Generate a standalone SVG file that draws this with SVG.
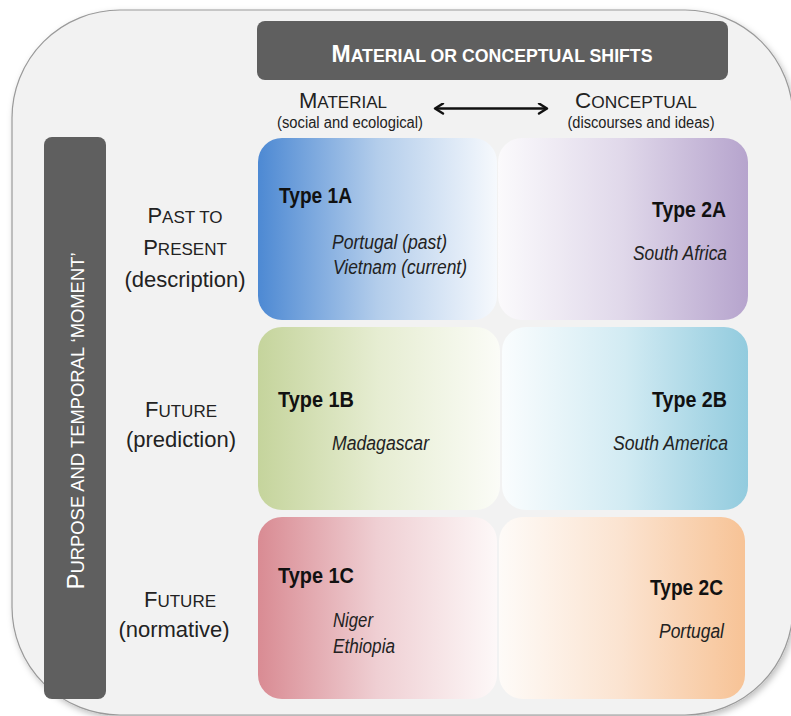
<svg xmlns="http://www.w3.org/2000/svg" width="791" height="716" viewBox="0 0 791 716">
  <style>
    .sans { font-family: "Liberation Sans", Arial, sans-serif; fill: #222; }
    .nar { font-family: "Liberation Sans Narrow", "Liberation Sans", Arial, sans-serif; fill: #111; }
    .type { font-size: 22px; font-weight: bold; }
    .ex { font-size: 20px; font-style: italic; fill: #222; }
    .lab { font-size: 22px; }
    .sub { font-size: 16px; }
    .bar { fill: #5f5f5f; }
  </style>
  <defs>
    <filter id="shadow" x="-5%" y="-5%" width="110%" height="110%">
      <feDropShadow dx="2" dy="3" stdDeviation="3" flood-color="#000" flood-opacity="0.25"/>
    </filter>
    <linearGradient id="g1A" x1="0" y1="0" x2="1" y2="0">
      <stop offset="0" stop-color="#4d89d3"/>
      <stop offset="0.5" stop-color="#b3cdeb"/>
      <stop offset="1" stop-color="#f6f9fd"/>
    </linearGradient>
    <linearGradient id="g2A" x1="0" y1="0" x2="1" y2="0">
      <stop offset="0" stop-color="#fbfafc"/>
      <stop offset="0.5" stop-color="#e0d8ea"/>
      <stop offset="1" stop-color="#b6a4cd"/>
    </linearGradient>
    <linearGradient id="g1B" x1="0" y1="0" x2="1" y2="0">
      <stop offset="0" stop-color="#c5d49c"/>
      <stop offset="0.5" stop-color="#e6edd2"/>
      <stop offset="1" stop-color="#fbfcf7"/>
    </linearGradient>
    <linearGradient id="g2B" x1="0" y1="0" x2="1" y2="0">
      <stop offset="0" stop-color="#fafdfe"/>
      <stop offset="0.5" stop-color="#d2ebf3"/>
      <stop offset="1" stop-color="#92cbde"/>
    </linearGradient>
    <linearGradient id="g1C" x1="0" y1="0" x2="1" y2="0">
      <stop offset="0" stop-color="#d98b93"/>
      <stop offset="0.5" stop-color="#efcfd3"/>
      <stop offset="1" stop-color="#fdf8f8"/>
    </linearGradient>
    <linearGradient id="g2C" x1="0" y1="0" x2="1" y2="0">
      <stop offset="0" stop-color="#fefbf8"/>
      <stop offset="0.5" stop-color="#fbe3d0"/>
      <stop offset="1" stop-color="#f7c396"/>
    </linearGradient>
    <marker id="ah" viewBox="0 0 12 12" refX="10" refY="6" markerWidth="12" markerHeight="12" markerUnits="userSpaceOnUse" orient="auto-start-reverse">
      <path d="M2,1 L10,6 L2,11" fill="none" stroke="#111" stroke-width="2.4" stroke-linecap="round" stroke-linejoin="round"/>
    </marker>
  </defs>

  <g id="background">
    <rect x="12" y="10" width="781" height="705" rx="108" ry="108" fill="#f2f2f2" stroke="#9a9a9a" stroke-width="1.2" filter="url(#shadow)"/>
  </g>

  <g id="header">
    <rect class="bar" x="257" y="21" width="471" height="59" rx="8"/>
    <text class="sans" style="fill:#fff" x="492" y="62" text-anchor="middle" font-weight="bold" font-size="24" textLength="321" lengthAdjust="spacingAndGlyphs">M<tspan font-size="18.5">ATERIAL OR CONCEPTUAL SHIFTS</tspan></text>
  </g>

  <g id="sidebar">
    <rect class="bar" x="44" y="137" width="62" height="562" rx="8"/>
    <text class="sans" style="fill:#fff" transform="translate(84,421) rotate(-90)" text-anchor="middle" font-size="24" textLength="337" lengthAdjust="spacingAndGlyphs">P<tspan font-size="18.5">URPOSE AND TEMPORAL ‘MOMENT’</tspan></text>
  </g>

  <g id="col-material">
    <text class="sans" x="343" y="108" text-anchor="middle" font-size="22" textLength="88" lengthAdjust="spacingAndGlyphs">M<tspan font-size="17">ATERIAL</tspan></text>
    <text class="sans sub" x="350" y="128" text-anchor="middle" textLength="146" lengthAdjust="spacingAndGlyphs">(social and ecological)</text>
  </g>
  <g id="col-conceptual">
    <text class="sans" x="636" y="108" text-anchor="middle" font-size="22" textLength="122" lengthAdjust="spacingAndGlyphs">C<tspan font-size="17">ONCEPTUAL</tspan></text>
    <text class="sans sub" x="641" y="128" text-anchor="middle" textLength="147" lengthAdjust="spacingAndGlyphs">(discourses and ideas)</text>
  </g>

  <g id="connectors">
    <line x1="435" y1="108.5" x2="547" y2="108.5" stroke="#111" stroke-width="2.4" marker-start="url(#ah)" marker-end="url(#ah)"/>
  </g>

  <g id="row-past">
    <text class="sans lab" x="185" y="223" text-anchor="middle">P<tspan font-size="17">AST TO</tspan></text>
    <text class="sans lab" x="185" y="255" text-anchor="middle">P<tspan font-size="17">RESENT</tspan></text>
    <text class="sans lab" x="185" y="287" text-anchor="middle">(description)</text>
  </g>
  <g id="row-prediction">
    <text class="sans lab" x="181" y="417" text-anchor="middle">F<tspan font-size="17">UTURE</tspan></text>
    <text class="sans lab" x="181" y="447" text-anchor="middle">(prediction)</text>
  </g>
  <g id="row-normative">
    <text class="sans lab" x="180" y="607" text-anchor="middle">F<tspan font-size="17">UTURE</tspan></text>
    <text class="sans lab" x="174" y="637" text-anchor="middle">(normative)</text>
  </g>

  <g id="type1A">
    <rect x="258" y="138" width="239" height="182" rx="24" fill="url(#g1A)"/>
    <text class="nar type" x="279" y="203" textLength="73" lengthAdjust="spacingAndGlyphs">Type 1A</text>
    <text class="nar ex" x="332" y="249" textLength="115" lengthAdjust="spacingAndGlyphs">Portugal (past)</text>
    <text class="nar ex" x="333" y="274" textLength="134" lengthAdjust="spacingAndGlyphs">Vietnam (current)</text>
  </g>
  <g id="type2A">
    <rect x="498" y="138" width="250" height="182" rx="24" fill="url(#g2A)"/>
    <text class="nar type" x="652" y="217" textLength="74" lengthAdjust="spacingAndGlyphs">Type 2A</text>
    <text class="nar ex" x="633" y="260" textLength="94" lengthAdjust="spacingAndGlyphs">South Africa</text>
  </g>
  <g id="type1B">
    <rect x="258" y="327" width="242" height="183" rx="24" fill="url(#g1B)"/>
    <text class="nar type" x="278" y="407" textLength="76" lengthAdjust="spacingAndGlyphs">Type 1B</text>
    <text class="nar ex" x="332" y="450" textLength="97" lengthAdjust="spacingAndGlyphs">Madagascar</text>
  </g>
  <g id="type2B">
    <rect x="502" y="327" width="246" height="183" rx="24" fill="url(#g2B)"/>
    <text class="nar type" x="652" y="407" textLength="75" lengthAdjust="spacingAndGlyphs">Type 2B</text>
    <text class="nar ex" x="613" y="450" textLength="115" lengthAdjust="spacingAndGlyphs">South America</text>
  </g>
  <g id="type1C">
    <rect x="258" y="517" width="239" height="182" rx="24" fill="url(#g1C)"/>
    <text class="nar type" x="278" y="583" textLength="76" lengthAdjust="spacingAndGlyphs">Type 1C</text>
    <text class="nar ex" x="333" y="627" textLength="40" lengthAdjust="spacingAndGlyphs">Niger</text>
    <text class="nar ex" x="333" y="653" textLength="62" lengthAdjust="spacingAndGlyphs">Ethiopia</text>
  </g>
  <g id="type2C">
    <rect x="499" y="517" width="246" height="182" rx="24" fill="url(#g2C)"/>
    <text class="nar type" x="650" y="595" textLength="73" lengthAdjust="spacingAndGlyphs">Type 2C</text>
    <text class="nar ex" x="659" y="638" textLength="65" lengthAdjust="spacingAndGlyphs">Portugal</text>
  </g>
</svg>
